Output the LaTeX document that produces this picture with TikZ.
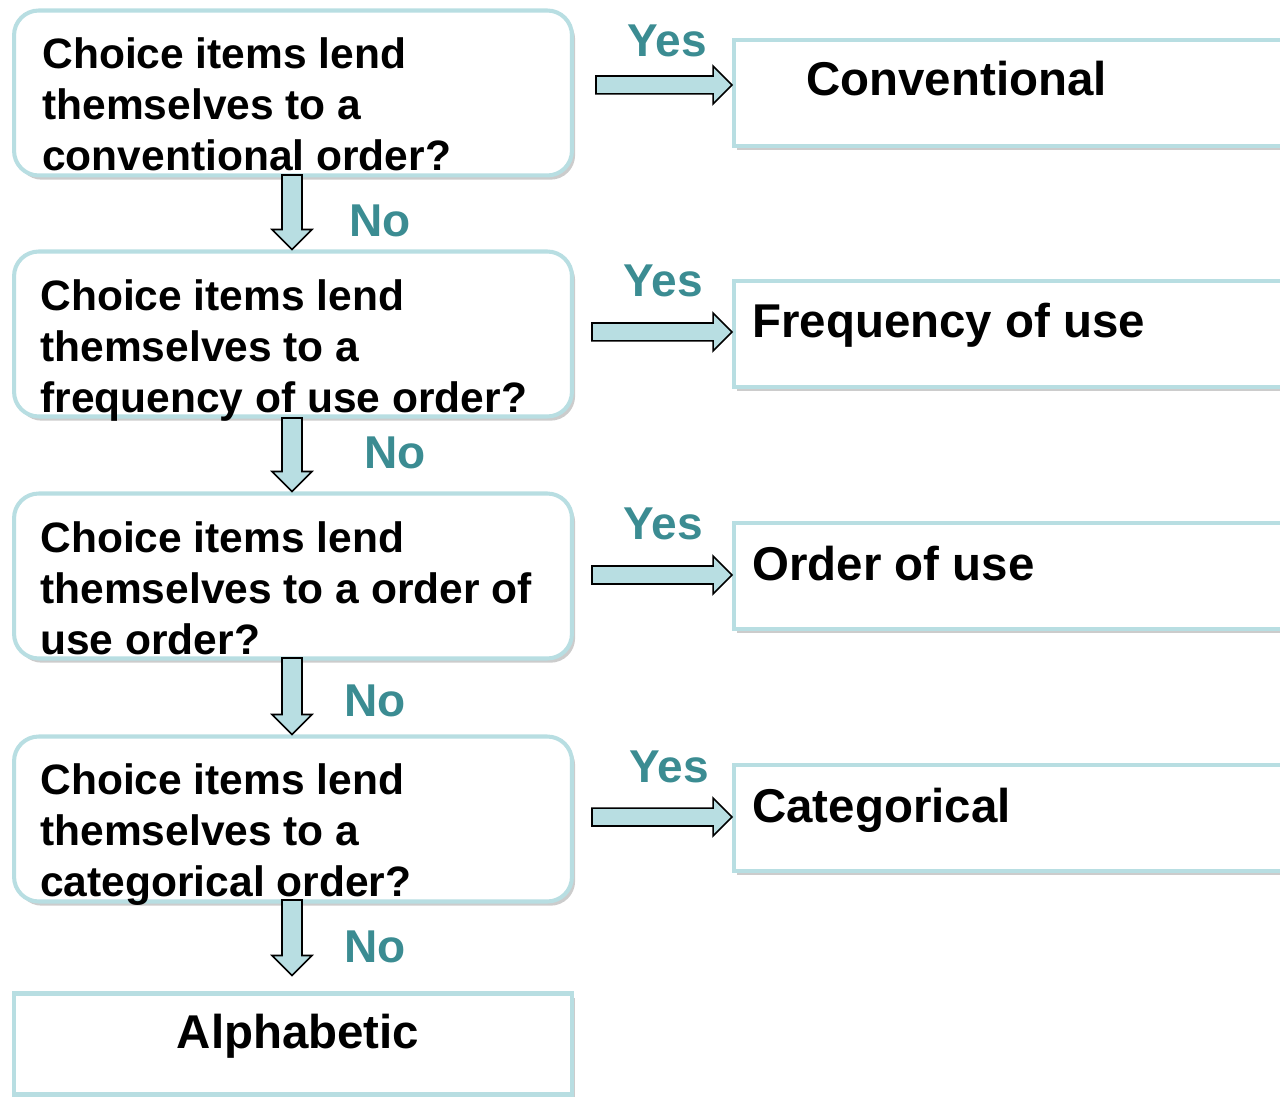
\documentclass[tikz,border=0pt]{standalone}
\usepackage{fontspec}
\setmainfont{Liberation Sans}
\usetikzlibrary{calc,shadows}
\definecolor{paleblue}{RGB}{184,222,226}
\definecolor{tealtext}{RGB}{59,140,146}

\begin{document}
\begin{tikzpicture}[x=0.02cm, y=-0.02cm]
 \tikzstyle{boxshadow} = [drop shadow={opacity=0.4,shadow xshift=1.8pt,shadow yshift=-2.4pt}]
 \tikzstyle{question} = [draw=paleblue,line width=2.3pt,fill=white,rounded corners=14pt,minimum width=11.16cm,minimum height=3.3cm,boxshadow]
 \tikzstyle{answer} = [draw=paleblue,line width=2.3pt,fill=white,minimum width=11.72cm,minimum height=2.12cm,boxshadow]
 \tikzstyle{final} = [draw=paleblue,line width=2.3pt,fill=white,minimum width=11.16cm,minimum height=2.02cm,boxshadow]
 \tikzstyle{qtext} = [anchor=north west,align=left,inner sep=0,font=\fontsize{24.2}{29}\bfseries\selectfont]
 \tikzstyle{atext} = [anchor=base west,inner sep=0,font=\fontsize{27}{32}\bfseries\selectfont]
 \tikzstyle{reply} = [anchor=base west,inner sep=0,text=tealtext,font=\fontsize{26.2}{31}\bfseries\selectfont]
 \tikzstyle{fatarrow} = [draw=black,fill=paleblue,line width=0.9pt]
 \newcommand{\yesarrow}[2]{\draw[fatarrow] let \p1=(#1), \p2=(#2) in
   (\x1,\y1+5.1pt) -- (\x2-10.8pt,\y1+5.1pt) -- (\x2-10.8pt,\y1+10.8pt) -- (\x2,\y1)
   -- (\x2-10.8pt,\y1-10.8pt) -- (\x2-10.8pt,\y1-5.1pt) -- (\x1,\y1-5.1pt) -- cycle;}
 \newcommand{\noarrow}[2]{\draw[fatarrow] let \p1=(#1), \p2=(#2) in
   (\x1-5.7pt,\y1) -- (\x1-5.7pt,\y2+11.4pt) -- (\x1-11.4pt,\y2+11.4pt) -- (\x1,\y2)
   -- (\x1+11.4pt,\y2+11.4pt) -- (\x1+5.7pt,\y2+11.4pt) -- (\x1+5.7pt,\y1) -- cycle;}

 \clip (0,0) rectangle (1280,1097);

% Question boxes
 \node[question] (q1) at (293,93) {};
 \node[question] (q2) at (293,334) {};
 \node[question] (q3) at (293,576) {};
 \node[question] (q4) at (293,819) {};
 \node[final] (alpha) at (293,1044) {};
 \node[qtext] (q1t) at (42,37) {Choice items lend\\themselves to a\\conventional order?};
 \node[qtext] (q2t) at (40,279) {Choice items lend\\themselves to a\\frequency of use order?};
 \node[qtext] (q3t) at (40,521) {Choice items lend\\themselves to a order of\\use order?};
 \node[qtext] (q4t) at (40,763) {Choice items lend\\themselves to a\\categorical order?};
 \node[atext,anchor=base] (alphat) at (298,1048) {Alphabetic};

% Answer boxes
 \node[answer] (c1) at (1027,93) {};
 \node[answer] (c2) at (1027,334) {};
 \node[answer] (c3) at (1027,576) {};
 \node[answer] (c4) at (1027,818) {};
 \node[atext] (c1t) at (806,96) {Conventional};
 \node[atext] (c2t) at (752,338) {Frequency of use};
 \node[atext] (c3t) at (752,580) {Order of use};
 \node[atext] (c4t) at (752,822) {Categorical};

% Yes arrows
 \coordinate (h1) at (596,85);
 \coordinate (h2) at (592,332);
 \coordinate (h3) at (592,575);
 \coordinate (h4) at (592,817);
 \yesarrow{h1}{c1.west |- h1}
 \yesarrow{h2}{c2.west |- h2}
 \yesarrow{h3}{c3.west |- h3}
 \yesarrow{h4}{c4.west |- h4}
 \node[reply] (y1) at (627,57) {Yes};
 \node[reply] (y2) at (623,297) {Yes};
 \node[reply] (y3) at (623,540) {Yes};
 \node[reply] (y4) at (629,782) {Yes};

% No arrows
 \coordinate (v1) at (292,175);
 \coordinate (v2) at (292,418);
 \coordinate (v3) at (292,658);
 \coordinate (v4) at (292,900);
 \noarrow{v1}{v1 |- q2.north}
 \noarrow{v2}{v2 |- q3.north}
 \noarrow{v3}{v3 |- q4.north}
 \noarrow{v4}{$(v4 |- alpha.north)+(0,-16)$}
 \node[reply] (n1) at (349,237) {No};
 \node[reply] (n2) at (364,469) {No};
 \node[reply] (n3) at (344,716) {No};
 \node[reply] (n4) at (344,962) {No};

\end{tikzpicture}
\end{document}
